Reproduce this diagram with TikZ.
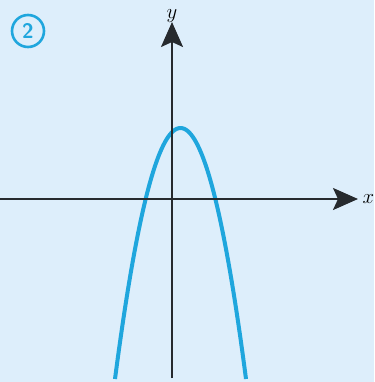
\documentclass[tikz,border=0pt]{standalone}
\usetikzlibrary{arrows.meta}
\definecolor{paper}{HTML}{DDEEFB}
\definecolor{curveblue}{HTML}{1FA6DD}
\definecolor{axisgray}{HTML}{262A2E}
\begin{document}
\begin{tikzpicture}[x=1pt, y=-1pt, semithick,
    every node/.style={font=\fontsize{22}{24}\selectfont}]
    \tikzset{axis/.style={draw=axisgray, line width=2pt, -{Stealth[length=25pt, width=22pt, inset=5pt]}},
             curve/.style={draw=curveblue, line width=4pt},
             badge/.style={draw=curveblue, circle, line width=2.6pt, minimum size=32pt, inner sep=0pt,
                           text=curveblue, font=\fontsize{21}{22}\selectfont\sffamily\bfseries}};
    \fill[paper] (0,0) rectangle (374,382);
    \useasboundingbox (0,0) rectangle (374,382);
    \node[badge] (num) at (28,31) {2};
    \coordinate (xL) at (0,199);
    \coordinate (xR) at (358,199);
    \coordinate (yB) at (172,378);
    \coordinate (yT) at (172,22);
    \node[right=1pt] (lx) at (xR) {$x$};
    \node[above=-4pt] (ly) at (yT) {$y$};
    \path[curve] plot[domain=115:246, samples=80, smooth] (\x, {128 + 0.0585*(\x-180.5)*(\x-180.5)});
    \draw[axis] (xL) -- (xR);
    \draw[axis] (yB) -- (yT);
\end{tikzpicture}
\end{document}
